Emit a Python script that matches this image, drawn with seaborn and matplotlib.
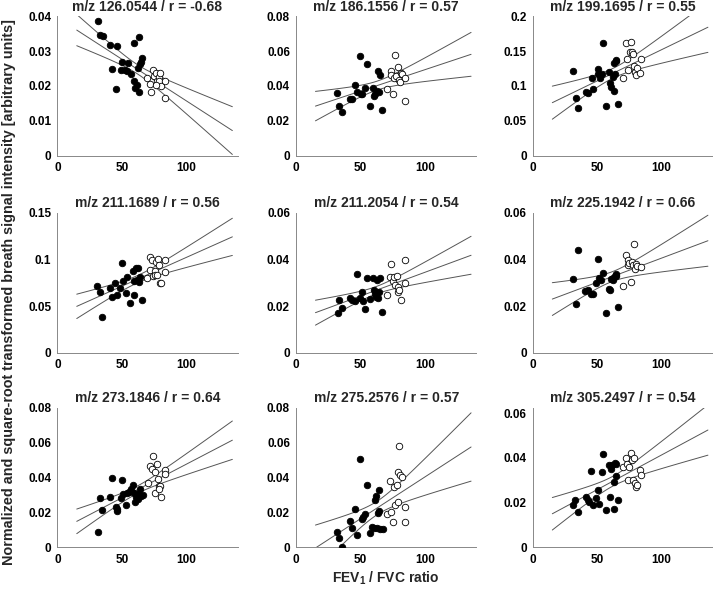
import numpy as np
import pandas as pd
import matplotlib
matplotlib.use("Agg")
import matplotlib.pyplot as plt
import seaborn as sns

# -----------------------------------
# VISUAL SETTINGS
# -----------------------------------
sns.set_style("white")
plt.rcParams["font.family"] = ["Liberation Sans", "DejaVu Sans"]
plt.rcParams["font.weight"] = "bold"
plt.rcParams["mathtext.fontset"] = "custom"
plt.rcParams["mathtext.bf"] = "Liberation Sans:bold"
plt.rcParams["mathtext.rm"] = "Liberation Sans:bold"

# -----------------------------------
# DATA
# filled = COPD subjects, open = controls
# -----------------------------------
titles = ["m/z 126.0544 / r = -0.68", "m/z 186.1556 / r = 0.57", "m/z 199.1695 / r = 0.55",
          "m/z 211.1689 / r = 0.56", "m/z 211.2054 / r = 0.54", "m/z 225.1942 / r = 0.66",
          "m/z 273.1846 / r = 0.64", "m/z 275.2576 / r = 0.57", "m/z 305.2497 / r = 0.54"]

p1_fx = [31.2, 33.0, 35.1, 41.0, 46.1, 42.5, 45.6, 49.7, 50.5, 52.6, 54.6, 53.9, 57.0, 59.8, 63.1, 59.3, 60.0, 61.9, 63.7, 62.9, 63.9, 65.2, 66.0]
p1_fy = [0.0386, 0.0345, 0.0344, 0.0316, 0.0315, 0.0248, 0.0191, 0.0247, 0.0269, 0.0247, 0.0267, 0.0244, 0.0235, 0.0324, 0.0341, 0.0215, 0.0193, 0.0203, 0.0183, 0.0251, 0.0262, 0.0269, 0.0279]
p1_ox = [69.3, 74.2, 72.2, 72.9, 74.7, 76.3, 77.3, 78.6, 79.6, 79.1, 80.7, 83.8, 83.5, 77.0]
p1_oy = [0.0224, 0.0247, 0.0206, 0.0183, 0.0228, 0.0238, 0.0215, 0.0227, 0.0238, 0.0213, 0.0199, 0.0215, 0.0165, 0.0203]

p2_fx = [32.0, 33.5, 35.8, 41.5, 43.3, 46.1, 47.2, 50.0, 50.5, 51.5, 53.9, 55.4, 57.5, 59.8, 60.6, 61.6, 62.9, 63.4, 64.7, 64.9, 67.0]
p2_fy = [0.0362, 0.0283, 0.0249, 0.0326, 0.0326, 0.0405, 0.0366, 0.0573, 0.0352, 0.0353, 0.0389, 0.0526, 0.0287, 0.0389, 0.0343, 0.0355, 0.0370, 0.0486, 0.0366, 0.0461, 0.0264]
p2_ox = [70.9, 74.0, 73.5, 75.3, 76.8, 76.0, 77.8, 78.9, 79.6, 80.7, 81.4, 82.0, 84.3, 84.8]
p2_oy = [0.0384, 0.0484, 0.0461, 0.0353, 0.0578, 0.0447, 0.0455, 0.0509, 0.0436, 0.0422, 0.0474, 0.0466, 0.0312, 0.0447]

p3_fx = [31.2, 33.2, 35.3, 41.0, 42.8, 45.6, 46.6, 50.3, 50.8, 51.8, 53.4, 54.6, 57.0, 59.3, 59.8, 60.6, 61.9, 62.6, 63.1, 63.7, 64.2, 64.7, 66.2]
p3_fy = [0.122, 0.082, 0.068, 0.092, 0.090, 0.112, 0.095, 0.124, 0.117, 0.111, 0.117, 0.162, 0.071, 0.120, 0.104, 0.098, 0.113, 0.133, 0.093, 0.117, 0.136, 0.137, 0.074]
p3_ox = [70.1, 72.4, 73.2, 74.2, 76.3, 75.3, 77.0, 78.1, 78.6, 79.6, 80.2, 81.2, 83.5, 84.0]
p3_oy = [0.111, 0.162, 0.138, 0.123, 0.163, 0.148, 0.149, 0.146, 0.129, 0.120, 0.115, 0.126, 0.119, 0.138]

p4_fx = [31.1, 32.9, 34.5, 40.7, 42.5, 45.1, 46.1, 49.0, 50.5, 51.3, 53.1, 54.4, 56.7, 58.5, 59.8, 59.8, 61.1, 62.4, 61.9, 63.2, 64.0, 66.1]
p4_fy = [0.0714, 0.0650, 0.0382, 0.0693, 0.0593, 0.0746, 0.0618, 0.0693, 0.0964, 0.0768, 0.0636, 0.0811, 0.0529, 0.0875, 0.0618, 0.0768, 0.0904, 0.0911, 0.0782, 0.0757, 0.0814, 0.0564]
p4_ox = [69.4, 72.3, 72.3, 73.6, 74.1, 75.6, 76.2, 76.7, 77.7, 78.0, 78.8, 80.0, 80.6, 83.7, 83.9]
p4_oy = [0.0796, 0.0882, 0.1029, 0.1000, 0.0825, 0.0875, 0.0836, 0.0968, 0.0829, 0.1007, 0.0936, 0.0746, 0.0746, 0.0861, 0.1000]

p5_fx = [32.2, 33.5, 35.8, 41.5, 43.3, 45.9, 47.2, 50.0, 51.3, 52.1, 53.9, 55.4, 57.5, 59.8, 60.3, 61.1, 62.1, 63.1, 64.4, 65.2, 63.4, 66.8]
p5_fy = [0.0169, 0.0224, 0.0193, 0.0236, 0.0226, 0.0221, 0.0339, 0.0233, 0.0259, 0.0220, 0.0187, 0.0319, 0.0231, 0.0319, 0.0269, 0.0253, 0.0237, 0.0314, 0.0261, 0.0320, 0.0233, 0.0176]
p5_ox = [70.6, 73.5, 73.2, 75.3, 76.3, 78.4, 76.8, 79.4, 79.1, 80.2, 81.4, 84.3, 84.3]
p5_oy = [0.0246, 0.0379, 0.0323, 0.0309, 0.0323, 0.0329, 0.0290, 0.0283, 0.0260, 0.0270, 0.0224, 0.0397, 0.0299]

p6_fx = [31.4, 33.2, 35.1, 40.7, 42.8, 45.4, 46.9, 49.2, 50.8, 51.5, 53.1, 54.6, 56.7, 59.3, 60.1, 60.6, 61.9, 62.4, 63.4, 64.2, 64.9, 66.2]
p6_fy = [0.0317, 0.0208, 0.0442, 0.0264, 0.0270, 0.0252, 0.0252, 0.0297, 0.0401, 0.0320, 0.0314, 0.0344, 0.0169, 0.0274, 0.0270, 0.0318, 0.0321, 0.0311, 0.0327, 0.0338, 0.0331, 0.0195]
p6_ox = [70.1, 72.4, 73.5, 74.2, 75.0, 76.3, 77.0, 78.1, 78.4, 79.4, 79.9, 80.9, 83.8]
p6_oy = [0.0287, 0.0419, 0.0400, 0.0378, 0.0387, 0.0303, 0.0390, 0.0375, 0.0466, 0.0360, 0.0380, 0.0374, 0.0367]

p7_fx = [31.4, 33.0, 34.8, 41.0, 42.5, 45.6, 46.1, 46.6, 49.2, 50.5, 51.3, 53.1, 54.4, 55.4, 57.0, 58.5, 59.8, 60.3, 61.3, 62.4, 62.9, 63.9, 64.7, 66.5]
p7_fy = [0.0089, 0.0282, 0.0214, 0.0286, 0.0400, 0.0233, 0.0210, 0.0222, 0.0281, 0.0387, 0.0307, 0.0245, 0.0309, 0.0317, 0.0332, 0.0355, 0.0309, 0.0258, 0.0290, 0.0277, 0.0307, 0.0337, 0.0294, 0.0298]
p7_ox = [70.1, 72.2, 73.2, 74.2, 76.0, 77.1, 76.0, 78.1, 78.9, 79.6, 79.1, 80.4, 83.8, 83.8]
p7_oy = [0.0368, 0.0464, 0.0449, 0.0523, 0.0430, 0.0476, 0.0313, 0.0390, 0.0349, 0.0349, 0.0332, 0.0286, 0.0445, 0.0423]

p8_fx = [32.0, 33.5, 35.6, 41.5, 43.3, 45.9, 47.2, 50.0, 51.3, 52.1, 53.9, 55.2, 57.5, 59.3, 60.6, 61.3, 62.4, 62.9, 63.4, 64.4, 64.7, 65.2, 67.3]
p8_fy = [0.0088, 0.0051, 0.0002, 0.0150, 0.0109, 0.0219, 0.0069, 0.0507, 0.0160, 0.0173, 0.0192, 0.0356, 0.0084, 0.0118, 0.0109, 0.0270, 0.0295, 0.0109, 0.0198, 0.0326, 0.0206, 0.0105, 0.0103]
p8_ox = [70.9, 73.2, 73.5, 75.5, 75.8, 76.8, 78.4, 78.9, 79.1, 80.2, 80.9, 82.0, 84.3, 84.5]
p8_oy = [0.0189, 0.0379, 0.0204, 0.0147, 0.0345, 0.0242, 0.0356, 0.0259, 0.0429, 0.0579, 0.0415, 0.0402, 0.0147, 0.0229]

p9_fx = [31.2, 33.0, 35.0, 41.0, 42.5, 43.8, 45.4, 46.6, 49.2, 50.5, 51.5, 53.4, 54.6, 57.0, 59.3, 60.1, 60.6, 61.3, 62.6, 63.1, 63.4, 64.2, 64.9, 66.2]
p9_fy = [0.0191, 0.0213, 0.0158, 0.0223, 0.0210, 0.0205, 0.0343, 0.0191, 0.0222, 0.0256, 0.0192, 0.0337, 0.0418, 0.0168, 0.0369, 0.0226, 0.0350, 0.0368, 0.0294, 0.0171, 0.0377, 0.0375, 0.0318, 0.0214]
p9_ox = [70.1, 72.4, 73.2, 74.2, 75.0, 76.3, 77.0, 78.1, 78.9, 79.4, 80.2, 80.9, 83.5, 83.8]
p9_oy = [0.0358, 0.0402, 0.0371, 0.0303, 0.0358, 0.0424, 0.0393, 0.0300, 0.0399, 0.0287, 0.0270, 0.0279, 0.0344, 0.0325]

y_limits = [0.04, 0.08, 0.2, 0.15, 0.06, 0.06, 0.08, 0.08, 0.0625]
y_ticks = [[0, 0.01, 0.02, 0.03, 0.04], [0, 0.02, 0.04, 0.06, 0.08], [0, 0.05, 0.1, 0.15, 0.2],
           [0, 0.05, 0.1, 0.15], [0, 0.02, 0.04, 0.06], [0, 0.02, 0.04, 0.06],
           [0, 0.02, 0.04, 0.06, 0.08], [0, 0.02, 0.04, 0.06, 0.08], [0, 0.02, 0.04, 0.06]]
x_ticks = [0, 50, 100]

panels = [(p1_fx, p1_fy, p1_ox, p1_oy), (p2_fx, p2_fy, p2_ox, p2_oy), (p3_fx, p3_fy, p3_ox, p3_oy),
          (p4_fx, p4_fy, p4_ox, p4_oy), (p5_fx, p5_fy, p5_ox, p5_oy), (p6_fx, p6_fy, p6_ox, p6_oy),
          (p7_fx, p7_fy, p7_ox, p7_oy), (p8_fx, p8_fy, p8_ox, p8_oy), (p9_fx, p9_fy, p9_ox, p9_oy)]


# -----------------------------------
# LINEAR FIT + 95% CI OF THE MEAN
# -----------------------------------
def fit_lines(x, y, grid):
    x = np.asarray(x)
    y = np.asarray(y)
    n = len(x)
    b, a = np.polyfit(x, y, 1)
    resid = y - (a + b * x)
    s = np.sqrt(np.sum(resid ** 2) / (n - 2))
    sxx = np.sum((x - x.mean()) ** 2)
    yhat = a + b * grid
    half = 2.024 * s * np.sqrt(1.0 / n + (grid - x.mean()) ** 2 / sxx)
    return pd.DataFrame({
        "x": np.concatenate([grid, grid, grid]),
        "y": np.concatenate([yhat - half, yhat, yhat + half]),
        "part": ["lo"] * len(grid) + ["fit"] * len(grid) + ["hi"] * len(grid),
    })


# -----------------------------------
# FIGURE
# -----------------------------------
fig = plt.figure(figsize=(7.13, 5.90), dpi=100)

lefts = [0.0806, 0.4154, 0.7476]
bottoms = [0.7361, 0.4025, 0.0724]
width, height = 0.2525, 0.2365
grid = np.linspace(15, 136, 80)

for i, (fx, fy, ox, oy) in enumerate(panels):
    ax = fig.add_axes([lefts[i % 3], bottoms[i // 3], width, height])

    lines = fit_lines(fx + ox, fy + oy, grid)
    sns.lineplot(data=lines, x="x", y="y", units="part", estimator=None,
                 color="#555555", linewidth=0.7, ax=ax, legend=False)

    sns.scatterplot(x=fx, y=fy, color="black", edgecolor="black", s=22,
                    linewidth=0.6, ax=ax, zorder=3)
    sns.scatterplot(x=ox, y=oy, color="white", edgecolor="black", s=22,
                    linewidth=0.6, ax=ax, zorder=3)

    ax.set_xlim(0, 140)
    ax.set_ylim(0, y_limits[i])
    ax.set_xticks(x_ticks)
    ax.set_xticklabels([f"{v:g}" for v in x_ticks], fontsize=8.5, fontweight="bold")
    ax.set_yticks(y_ticks[i])
    ax.set_yticklabels([f"{v:g}" for v in y_ticks[i]], fontsize=8.5, fontweight="bold")
    ax.tick_params(direction="in", length=2.5, width=0.6, colors="#777777",
                   labelcolor="black", pad=4.5)
    ax.set_xlabel("")
    ax.set_ylabel("")
    for side in ["top", "right"]:
        ax.spines[side].set_visible(False)
    for side in ["left", "bottom"]:
        ax.spines[side].set_color("#888888")
        ax.spines[side].set_linewidth(0.7)
    ax.set_title(titles[i], fontsize=10, fontweight="bold", pad=4)

fig.text(0.012, 0.505,
         "Normalized and square-root transformed breath signal intensity [arbitrary units]",
         rotation=90, ha="center", va="center", fontsize=10.4, fontweight="bold")
fig.text(0.541, 0.019, r"FEV$_\mathbf{1}$ / FVC ratio",
         ha="center", va="center", fontsize=10, fontweight="bold")

fig.savefig("out.png", dpi=100)
